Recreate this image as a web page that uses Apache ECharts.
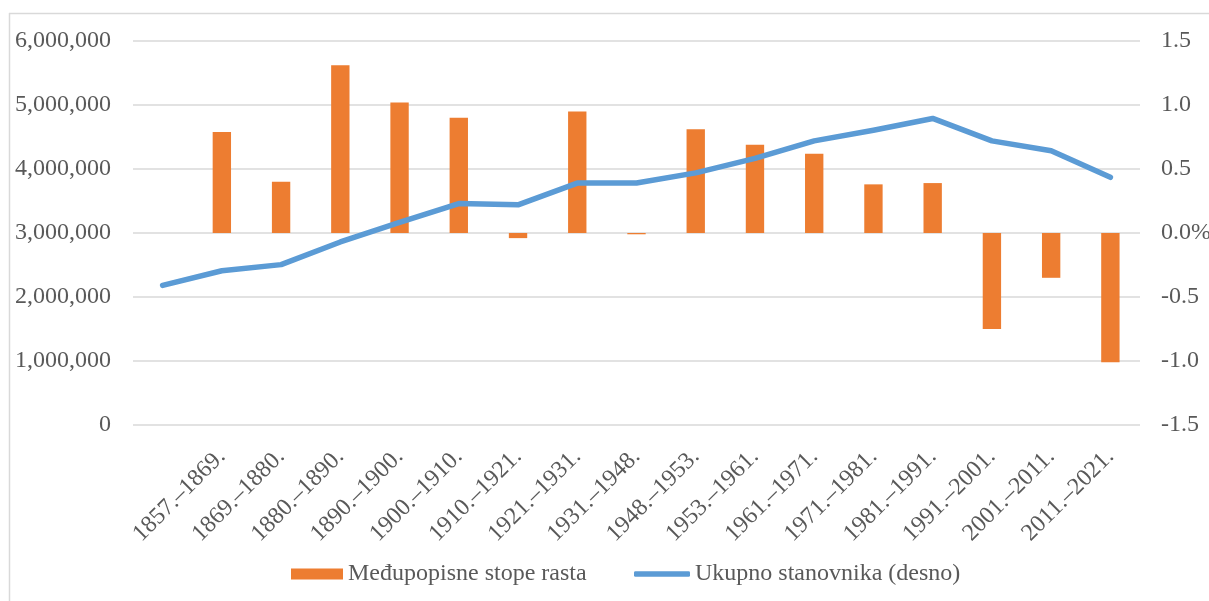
<!DOCTYPE html>
<html>
<head>
<meta charset="utf-8">
<script src="https://cdn.jsdelivr.net/npm/echarts@6/dist/echarts.min.js"></script>
<style>
html,body{margin:0;padding:0;background:#fff;}
#chart{width:1209px;height:601px;}
</style>
</head>
<body>
<div id="chart"></div>
<script>
// Categories (first slot is the starting census, unlabeled)
const categories = ['', '1857.–1869.', '1869.–1880.', '1880.–1890.', '1890.–1900.', '1900.–1910.', '1910.–1921.', '1921.–1931.', '1931.–1948.', '1948.–1953.', '1953.–1961.', '1961.–1971.', '1971.–1981.', '1981.–1991.', '1991.–2001.', '2001.–2011.', '2011.–2021.'];
// Intercensal growth rates (%), right axis
const growthRates = [null, 0.79, 0.40, 1.31, 1.02, 0.90, -0.04, 0.95, -0.01, 0.81, 0.69, 0.62, 0.38, 0.39, -0.75, -0.35, -1.01];
// Total population, left axis
const population = [2181000, 2410000, 2506000, 2860000, 3165000, 3460000, 3440000, 3780000, 3780000, 3940000, 4165000, 4440000, 4605000, 4790000, 4440000, 4285000, 3870000];
const seriesNames = ['Međupopisne stope rasta', 'Ukupno stanovnika (desno)'];

const FONT = '"Liberation Serif", "Times New Roman", serif';
const TXT = '#595959';
const FS = 24;
const chart = echarts.init(document.getElementById('chart'));
chart.setOption({
  animation: false,
  backgroundColor: '#fff',
  graphic: [
    {type: 'line', shape: {x1: 9.5, y1: 13, x2: 9.5, y2: 601}, style: {stroke: '#D9D9D9', lineWidth: 1.5}, silent: true},
    {type: 'line', shape: {x1: 9, y1: 13.5, x2: 1209, y2: 13.5}, style: {stroke: '#D9D9D9', lineWidth: 1.5}, silent: true}
  ],
  grid: {left: 133, right: 69, top: 41, bottom: 176, containLabel: false, outerBoundsMode: 'none'},
  legend: [{
    left: 286, top: 557,
    itemWidth: 52, itemHeight: 11,
    textStyle: {fontFamily: FONT, fontSize: FS, color: TXT},
    data: [{name: seriesNames[0], icon: 'rect'}]
  }, {
    left: 629, top: 557,
    itemWidth: 56, itemHeight: 5.5,
    textStyle: {fontFamily: FONT, fontSize: FS, color: TXT},
    data: [{name: seriesNames[1], icon: 'roundRect'}]
  }],
  xAxis: {
    type: 'category', data: categories,
    axisLine: {show: false}, axisTick: {show: false},
    axisLabel: {rotate: 45, interval: 0, margin: 28, fontFamily: FONT, fontSize: FS, color: TXT}
  },
  yAxis: [{
    type: 'value', min: 0, max: 6000000, interval: 1000000,
    axisLine: {show: false}, axisTick: {show: false},
    splitLine: {lineStyle: {color: '#D9D9D9', width: 1.5}},
    axisLabel: {margin: 22, fontFamily: FONT, fontSize: FS, color: TXT,
      formatter: v => v.toLocaleString('en-US')}
  }, {
    type: 'value', min: -1.5, max: 1.5, interval: 0.5,
    axisLine: {show: false}, axisTick: {show: false}, splitLine: {show: false},
    axisLabel: {margin: 21, fontFamily: FONT, fontSize: FS, color: TXT,
      formatter: v => Math.abs(v) < 1e-9 ? '0.0%' : v.toFixed(1)}
  }],
  series: [{
    name: seriesNames[0], type: 'bar', yAxisIndex: 1,
    data: growthRates, barWidth: '31%',
    itemStyle: {color: '#ED7D31'}
  }, {
    name: seriesNames[1], type: 'line', yAxisIndex: 0,
    data: population, symbol: 'none',
    lineStyle: {color: '#5B9BD5', width: 5.5, cap: 'round', join: 'round'},
    itemStyle: {color: '#5B9BD5'}
  }]
});
</script>
</body>
</html>
